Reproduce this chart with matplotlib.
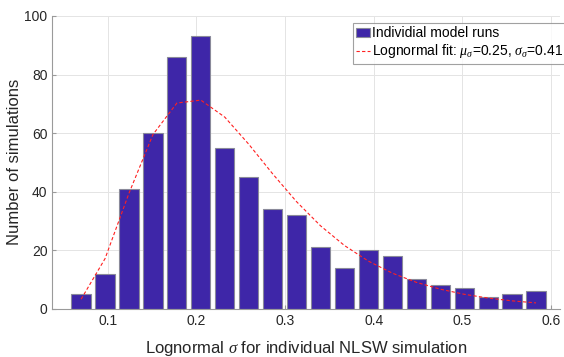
import numpy as np
import matplotlib.pyplot as plt

plt.rcParams['font.family'] = ['Liberation Sans', 'DejaVu Sans']
plt.rcParams['mathtext.fontset'] = 'custom'
plt.rcParams['mathtext.it'] = 'Liberation Serif:italic'
plt.rcParams['mathtext.rm'] = 'Liberation Sans'

# histogram of fitted sigma values (bin centres and counts)
bin_centers = [0.070, 0.097, 0.124, 0.151, 0.178, 0.205, 0.232, 0.259, 0.286, 0.313,
               0.340, 0.367, 0.394, 0.421, 0.448, 0.475, 0.502, 0.529, 0.556, 0.583]
counts = [5, 12, 41, 60, 86, 93, 55, 45, 34, 32, 21, 14, 20, 18, 10, 8, 7, 4, 5, 6]
bin_width = 0.0271

# lognormal fit parameters
fit_mean = 0.25
fit_shape = 0.41

x = np.array(bin_centers)
mu_log = np.log(fit_mean) - fit_shape**2 / 2
pdf = np.exp(-(np.log(x) - mu_log)**2 / (2 * fit_shape**2)) / (x * fit_shape * np.sqrt(2 * np.pi))
fit_curve = pdf * sum(counts) * bin_width

fig = plt.figure(figsize=(5.64, 3.57), dpi=100)
ax = fig.add_axes([0.0927, 0.1353, 0.9002, 0.8199])

bars = ax.bar(bin_centers, counts, width=bin_width * 0.8, color='#3E26A8',
              edgecolor='#8a8a9a', linewidth=0.8, label='Individial model runs', zorder=2)
fit_line, = ax.plot(bin_centers, fit_curve, '--', color='#ff2020', linewidth=0.8,
                    dashes=(3, 2), zorder=3,
                    label=r'Lognormal fit: $\mu_\sigma$=0.25, $\sigma_\sigma$=0.41')

ax.set_xlim(0.0375, 0.610)
ax.set_ylim(0, 100)
ax.set_xticks([0.1, 0.2, 0.3, 0.4, 0.5, 0.6])
ax.set_xticklabels(['0.1', '0.2', '0.3', '0.4', '0.5', '0.6'])
ax.set_yticks([0, 20, 40, 60, 80, 100])

ax.grid(True, color='#e4e4e4', linewidth=0.7, zorder=0)
ax.set_axisbelow(True)
for side in ['top', 'right']:
    ax.spines[side].set_visible(False)
for side in ['left', 'bottom']:
    ax.spines[side].set_color('#9a9a9a')
    ax.spines[side].set_linewidth(0.8)
ax.tick_params(direction='in', length=3, color='#9a9a9a', labelsize=10,
               labelcolor='#262626')

ax.set_xlabel(r'Lognormal $\sigma$ for individual NLSW simulation', fontsize=12,
              color='#262626', labelpad=8)
ax.set_ylabel('Number of simulations', fontsize=12, color='#262626', labelpad=2)

leg = ax.legend(handles=[bars, fit_line], loc='upper right',
                bbox_to_anchor=(1.004, 0.936, 0.0, 0.0),
                bbox_transform=fig.transFigure, fontsize=10, frameon=True,
                fancybox=False, borderpad=0.25, handlelength=1.0, handletextpad=0.1,
                labelspacing=0.15, borderaxespad=0.0)
leg.get_frame().set_edgecolor('#8a8a8a')
leg.get_frame().set_linewidth(0.8)

fig.savefig('out.png', dpi=100)
